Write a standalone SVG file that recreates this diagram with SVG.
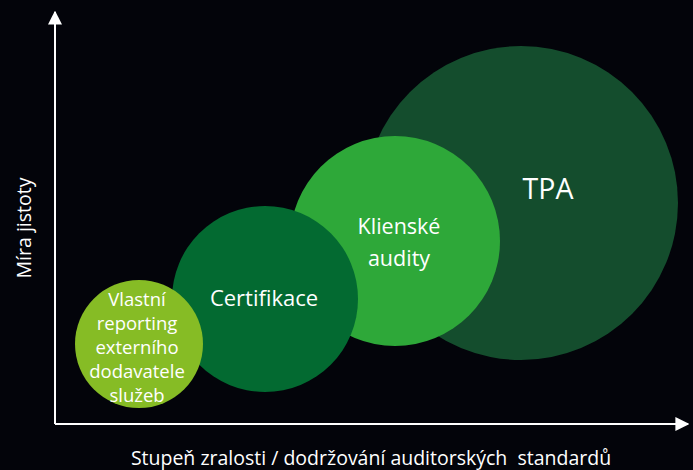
<svg xmlns="http://www.w3.org/2000/svg" width="693" height="470" viewBox="0 0 693 470">
<style>
text{font-family:"Open Sans","Noto Sans","Liberation Sans",sans-serif;fill:#ffffff;text-anchor:middle}
.ax{stroke:#ffffff;stroke-width:2;fill:none}
</style>
<defs>
<marker id="arr" viewBox="0 0 10 10" refX="9" refY="5" markerWidth="7" markerHeight="7" markerUnits="strokeWidth" orient="auto">
<path d="M0,0 L10,5 L0,10 z" fill="#ffffff"/>
</marker>
</defs>
<rect width="693" height="470" fill="#03040a"/>
<g id="tpa">
<circle cx="521" cy="203" r="157" fill="#144d2d"/>
<text x="548" y="199" font-size="28.5">TPA</text>
</g>
<g id="klienske">
<circle cx="395" cy="241" r="105" fill="#2ea839"/>
<text x="399" y="234" font-size="21.5">Klienské</text>
<text x="399" y="266" font-size="21.5">audity</text>
</g>
<g id="certifikace">
<circle cx="265" cy="299" r="93" fill="#036a31"/>
<text x="264" y="306" font-size="22">Certifikace</text>
</g>
<g id="vlastni">
<circle cx="139" cy="344" r="64" fill="#86bc25"/>
<text x="137" y="306" font-size="18.5">Vlastní</text>
<text x="137" y="330" font-size="18.5">reporting</text>
<text x="137" y="354" font-size="18.5">externího</text>
<text x="137" y="378" font-size="18.5">dodavatele</text>
<text x="137" y="402" font-size="18.5">služeb</text>
</g>
<g id="connectors">
<line class="ax" x1="55" y1="424" x2="55" y2="12" marker-end="url(#arr)"/>
<line class="ax" x1="55" y1="424" x2="688" y2="424" marker-end="url(#arr)"/>
</g>
<g id="labels">
<text x="371" y="465" font-size="19.5" xml:space="preserve">Stupeň zralosti / dodržování auditorských  standardů</text>
<text x="0" y="0" font-size="19.5" transform="translate(31,228) rotate(-90)">Míra jistoty</text>
</g>
</svg>
